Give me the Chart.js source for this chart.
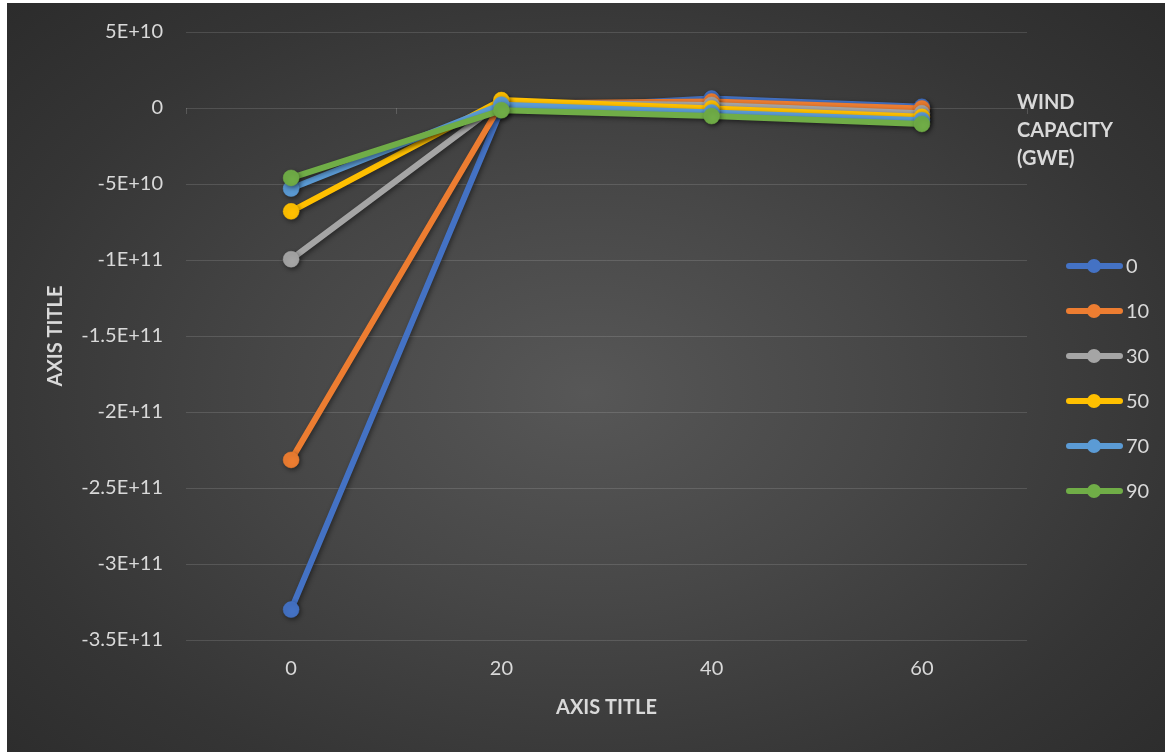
<!DOCTYPE html>
<html>
<head>
<meta charset="utf-8">
<script src="https://cdn.jsdelivr.net/npm/chart.js@4/dist/chart.umd.min.js"></script>
<style>
  html, body { margin: 0; padding: 0; background: #ffffff; width: 1165px; height: 752px; overflow: hidden; }
  #panel {
    position: absolute; left: 7px; top: 3px; width: 1158px; height: 749px;
    background: radial-gradient(ellipse 75% 80% at 50% 52%, #575757 0%, #474747 35%, #353535 70%, #292929 100%);
  }
  #wrap { position: absolute; left: 0; top: 0; width: 1165px; height: 752px; }
</style>
</head>
<body>
<div id="panel"></div>
<div id="wrap"><canvas id="chart" width="1165" height="752"></canvas></div>
<script>
// Categories on the horizontal axis
const categories = ['0', '20', '40', '60'];

// Series names (wind capacity, GWe)
const seriesNames = ['0', '10', '30', '50', '70', '90'];

// Series values
const wind0  = [-3.300e11, -0.10e10,  0.62e10,  0.08e10];
const wind10 = [-2.315e11,  0.30e10,  0.42e10, -0.03e10];
const wind30 = [-0.995e11,  0.38e10,  0.20e10, -0.35e10];
const wind50 = [-0.680e11,  0.52e10, -0.03e10, -0.58e10];
const wind70 = [-0.530e11,  0.22e10, -0.30e10, -0.80e10];
const wind90 = [-0.460e11, -0.15e10, -0.53e10, -1.05e10];

const seriesColors = ['#4472C4', '#ED7D31', '#A5A5A5', '#FFC000', '#5B9BD5', '#70AD47'];
const seriesValues = [wind0, wind10, wind30, wind50, wind70, wind90];

const legendTitle = ['WIND', 'CAPACITY', '(GWE)'];
const axisTitle = 'AXIS TITLE';

const TEXT = '#d9d9d9';
const FONT = 'Lato, "Open Sans", sans-serif';

// Excel-like scientific tick labels: 5E+10, -1.5E+11, 0
function sciLabel(v) {
  if (v === 0) return '0';
  const sign = v < 0 ? '-' : '';
  const a = Math.abs(v);
  const exp = Math.floor(Math.log10(a) + 1e-9);
  const mant = parseFloat((a / Math.pow(10, exp)).toFixed(2));
  return sign + mant + 'E+' + exp;
}

const datasets = seriesValues.map((vals, i) => ({
  label: seriesNames[i],
  data: vals,
  borderColor: seriesColors[i],
  backgroundColor: seriesColors[i],
  pointBackgroundColor: seriesColors[i],
  pointBorderColor: seriesColors[i],
  borderWidth: 6,
  pointRadius: 8,
  pointBorderWidth: 0.5,
  pointHoverRadius: 8,
  borderCapStyle: 'round',
  borderJoinStyle: 'round',
  tension: 0,
  order: seriesValues.length - 1 - i
}));

// Soft shadow under the series lines and markers
const shadowPlugin = {
  id: 'seriesShadow',
  beforeDatasetsDraw(chart) {
    const ctx = chart.ctx;
    ctx.save();
    ctx.shadowColor = 'rgba(0,0,0,0.45)';
    ctx.shadowBlur = 5;
    ctx.shadowOffsetX = 1.5;
    ctx.shadowOffsetY = 2;
  },
  afterDatasetsDraw(chart) {
    chart.ctx.restore();
  }
};

// Category boundary tick marks on the zero line
const zeroTicksPlugin = {
  id: 'zeroTicks',
  beforeDatasetsDraw(chart) {
    const x = chart.scales.x, y = chart.scales.y;
    const y0 = y.getPixelForValue(0);
    const ctx = chart.ctx;
    ctx.save();
    ctx.strokeStyle = 'rgba(255,255,255,0.16)';
    ctx.lineWidth = 1;
    const n = categories.length;
    const xs = [x.left];
    for (let i = 1; i < n; i++) xs.push((x.getPixelForValue(i - 1) + x.getPixelForValue(i)) / 2);
    xs.push(x.right);
    ctx.beginPath();
    xs.forEach(px => {
      const p = Math.round(px) + 0.5;
      ctx.moveTo(p, y0);
      ctx.lineTo(p, y0 + 6);
    });
    ctx.stroke();
    ctx.restore();
  }
};

// Legend block on the right: title and line+marker swatches
const legendPlugin = {
  id: 'sideLegend',
  afterDraw(chart) {
    const ctx = chart.ctx;
    ctx.save();
    ctx.fillStyle = TEXT;
    ctx.textAlign = 'left';
    ctx.textBaseline = 'middle';
    ctx.font = 'bold 20px ' + FONT;
    legendTitle.forEach((t, i) => ctx.fillText(t, 1017, 103 + i * 28));

    ctx.font = '20px ' + FONT;
    chart.data.datasets.forEach((ds, i) => {
      const cy = 266 + i * 45;
      ctx.strokeStyle = ds.borderColor;
      ctx.lineWidth = 6;
      ctx.lineCap = 'round';
      ctx.beginPath();
      ctx.moveTo(1069, cy);
      ctx.lineTo(1120, cy);
      ctx.stroke();
      ctx.fillStyle = ds.borderColor;
      ctx.beginPath();
      ctx.arc(1094, cy, 7, 0, Math.PI * 2);
      ctx.fill();
      ctx.fillStyle = TEXT;
      ctx.fillText(ds.label, 1126, cy + 1);
    });
    ctx.restore();
  }
};

new Chart(document.getElementById('chart'), {
  type: 'line',
  data: { labels: categories, datasets },
  plugins: [zeroTicksPlugin, shadowPlugin, legendPlugin],
  options: {
    responsive: false,
    animation: false,
    events: [],
    layout: { padding: { left: 40, top: 32, right: 138, bottom: 0 } },
    plugins: {
      legend: { display: false },
      tooltip: { enabled: false },
      title: { display: false }
    },
    scales: {
      x: {
        type: 'category',
        offset: true,
        grid: { display: false, drawTicks: false },
        border: { display: false },
        ticks: {
          color: TEXT,
          font: { family: FONT, size: 20 },
          padding: 17,
          maxRotation: 0
        },
        title: {
          display: true,
          text: axisTitle,
          color: TEXT,
          font: { family: FONT, size: 20, weight: 'bold' },
          padding: { top: 0, bottom: 32 }
        },
        afterFit(scale) { scale.height = 112; }
      },
      y: {
        min: -3.5e11,
        max: 5e10,
        grid: {
          color: 'rgba(255,255,255,0.13)',
          lineWidth: 1,
          drawTicks: false
        },
        border: { display: false },
        ticks: {
          stepSize: 5e10,
          color: TEXT,
          font: { family: FONT, size: 20 },
          padding: 23,
          callback: (v) => sciLabel(v)
        },
        title: {
          display: true,
          text: axisTitle,
          color: TEXT,
          font: { family: FONT, size: 20, weight: 'bold' },
          padding: { top: 4, bottom: 0 }
        },
        afterFit(scale) {
          scale.width = 146;
          scale.paddingTop = 0;
          scale.paddingBottom = 0;
        }
      }
    }
  }
});
</script>
</body>
</html>
